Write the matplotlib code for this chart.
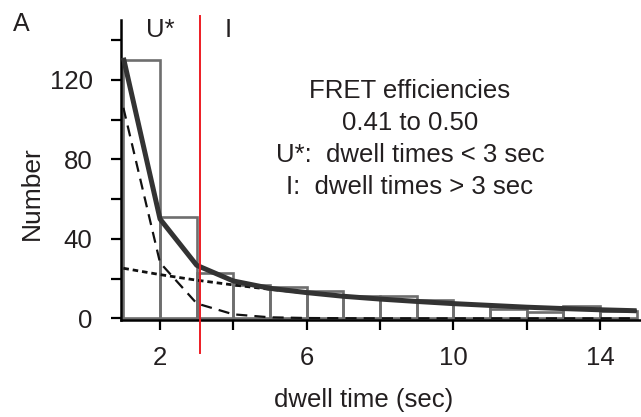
import matplotlib
matplotlib.use("Agg")
import matplotlib.pyplot as plt
import numpy as np

plt.rcParams['font.family'] = ['Liberation Sans', 'DejaVu Sans']
plt.rcParams['text.color'] = '#231f20'
plt.rcParams['axes.labelcolor'] = '#231f20'
plt.rcParams['xtick.labelcolor'] = '#231f20'
plt.rcParams['ytick.labelcolor'] = '#231f20'

# Histogram bins (dwell time, sec) and counts
bin_left = [1, 2, 3, 4, 5, 6, 7, 8, 9, 10, 11, 12, 13, 14]
counts = [130, 51, 23, 17, 16, 14, 11, 11.4, 9.2, 7, 4.5, 3.3, 6.3, 3.5]

# Fitted curves evaluated at integer dwell times
t_fit = [1, 2, 3, 4, 5, 6, 7, 8, 9, 10, 11, 12, 13, 14, 15]
fit_total = [131.2, 50.0, 26.7, 18.8, 15.1, 12.95, 11.1, 9.7, 8.5, 7.4, 6.5, 5.6, 4.9, 4.3, 3.8]
fit_fast = [106, 28, 7.5, 2.0, 0.5, 0.15, 0.05, 0, 0, 0, 0, 0, 0, 0, 0]
fit_slow = [25.2, 22.0, 19.2, 16.8, 14.6, 12.8, 11.1, 9.7, 8.5, 7.4, 6.5, 5.6, 4.9, 4.3, 3.8]

threshold = 3.08

W, H = 641, 417
fig = plt.figure(figsize=(W / 100, H / 100), dpi=100)
ax = fig.add_axes([121 / W, (H - 320.3) / H, 1 - 121 / W, (320.3 - 20) / H])

ax.bar(bin_left, counts, width=1.0, align='edge', fill=False,
       edgecolor='#6e6e6e', linewidth=1.9, zorder=2)
ax.plot(t_fit, fit_fast, color='#111111', linestyle=(0, (5, 3.2)), linewidth=1.6, zorder=3)
ax.plot(t_fit, fit_slow, color='#111111', linestyle=(0, (2.0, 1.4)), linewidth=2.0, zorder=3)
ax.plot(t_fit, fit_total, color='#333333', linewidth=3.6, solid_capstyle='butt', zorder=4)

ax.axvline(threshold, ymin=-0.11, ymax=1.013, color='#ed1c24', linewidth=1.4,
           clip_on=False, zorder=5)

ax.set_xlim(0.935, 15.12)
ax.set_ylim(-1.0, 150.2)

ax.spines['top'].set_visible(False)
ax.spines['right'].set_visible(False)
for s in ('left', 'bottom'):
    ax.spines[s].set_linewidth(1.8)

ax.set_xticks([2, 4, 6, 8, 10, 12, 14])
ax.set_xticklabels(['2', '', '6', '', '10', '', '14'])
ax.set_yticks([0, 20, 40, 60, 80, 100, 120, 140])
ax.set_yticklabels(['0', '', '40', '', '80', '', '120', ''])
ax.tick_params(axis='both', direction='out', length=7.5, width=1.6, labelsize=18.5)
ax.tick_params(axis='x', pad=11)
ax.tick_params(axis='y', pad=13)

ax.set_xlabel('dwell time (sec)', fontsize=18.5)
ax.xaxis.label.set_va('baseline')
ax.xaxis.set_label_coords((364 - 121) / (W - 121), -(407.5 - 320.3) / 300.3)
ax.set_ylabel('Number', fontsize=19)
ax.yaxis.label.set_va('center')
ax.yaxis.set_label_coords(-(121 - 32) / (W - 121), (320.3 - 193) / 300.3)

def figtext(px, py, s, **kw):
    fig.text(px / W, 1 - py / H, s, **kw)

figtext(21, 31, 'A', fontsize=18, ha='center', va='baseline')
figtext(160.5, 37.3, 'U*', fontsize=18.5, ha='center', va='baseline')
figtext(228.5, 37.3, 'I', fontsize=18.5, ha='center', va='baseline')

lines = ['FRET efficiencies', '0.41 to 0.50', 'U*:  dwell times < 3 sec', 'I:  dwell times > 3 sec']
for i, t in enumerate(lines):
    figtext(410, 97.7 + 32 * i, t, fontsize=18.5, ha='center', va='baseline')

fig.savefig('out.png', dpi=100)
